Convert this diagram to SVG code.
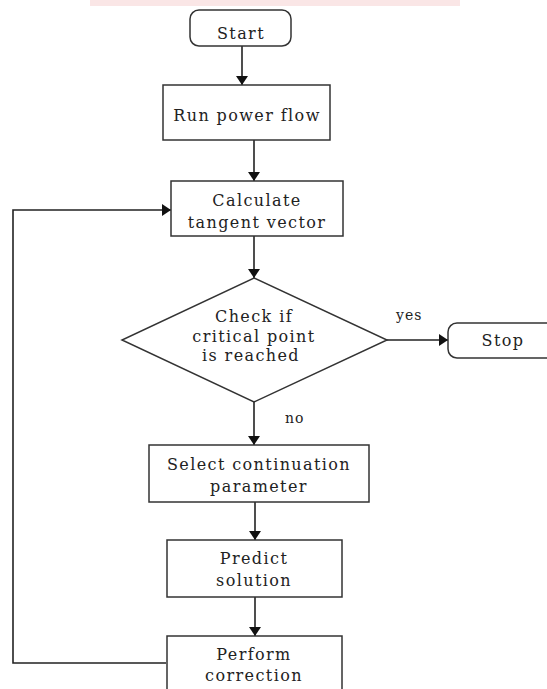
<svg xmlns="http://www.w3.org/2000/svg" width="547" height="689" viewBox="0 0 547 689">
<defs>
<marker id="ah" viewBox="0 0 9 12" refX="9" refY="6" markerWidth="9" markerHeight="12" markerUnits="userSpaceOnUse" orient="auto"><path d="M0,0 L9,6 L0,12 z" fill="#111"/></marker>
<style>
.n{fill:#fff;stroke:#333;stroke-width:1.5}
.c{fill:none;stroke:#222;stroke-width:1.6}
.t{font-family:"DejaVu Serif",serif;font-size:16px;fill:#222;text-anchor:middle;letter-spacing:1.4px}
.l{font-family:"DejaVu Serif",serif;font-size:14px;fill:#222;letter-spacing:1px}
</style>
</defs>
<rect width="547" height="689" fill="#fff"/>
<rect x="90" y="0" width="370" height="6" fill="#f7d6d6" opacity="0.6"/>
<g id="connectors">
<path class="c" d="M242,46 V85" marker-end="url(#ah)"/>
<path class="c" d="M254,140 V181" marker-end="url(#ah)"/>
<path class="c" d="M254,236 V278" marker-end="url(#ah)"/>
<path class="c" d="M387,340 H448" marker-end="url(#ah)"/>
<path class="c" d="M254,402 V445" marker-end="url(#ah)"/>
<path class="c" d="M255,502 V540" marker-end="url(#ah)"/>
<path class="c" d="M255,597 V636" marker-end="url(#ah)"/>
<path class="c" d="M166,663 H13 V210 H171" marker-end="url(#ah)"/>
<text class="l" x="396" y="320">yes</text>
<text class="l" x="285" y="423">no</text>
</g>
<g id="start"><rect class="n" x="190" y="10" width="101" height="36" rx="9"/><text class="t" x="241" y="39">Start</text></g>
<g id="run"><rect class="n" x="163" y="85" width="167" height="55"/><text class="t" x="247" y="121">Run power flow</text></g>
<g id="calc"><rect class="n" x="171" y="181" width="172" height="55"/><text class="t" x="257" y="206">Calculate</text><text class="t" x="257" y="228">tangent vector</text></g>
<g id="check"><polygon class="n" points="254,278 387,340 254,402 122,340"/><text class="t" x="254" y="322">Check if</text><text class="t" x="254" y="342">critical point</text><text class="t" x="251" y="361">is reached</text></g>
<g id="stop"><rect class="n" x="448" y="323" width="110" height="35" rx="9"/><text class="t" x="503" y="346">Stop</text></g>
<g id="select"><rect class="n" x="149" y="445" width="220" height="57"/><text class="t" x="259" y="470">Select continuation</text><text class="t" x="259" y="492">parameter</text></g>
<g id="predict"><rect class="n" x="167" y="540" width="175" height="57"/><text class="t" x="254" y="564">Predict</text><text class="t" x="254" y="586">solution</text></g>
<g id="perform"><rect class="n" x="167" y="636" width="175" height="70"/><text class="t" x="254" y="660">Perform</text><text class="t" x="254" y="681">correction</text></g>
</svg>
